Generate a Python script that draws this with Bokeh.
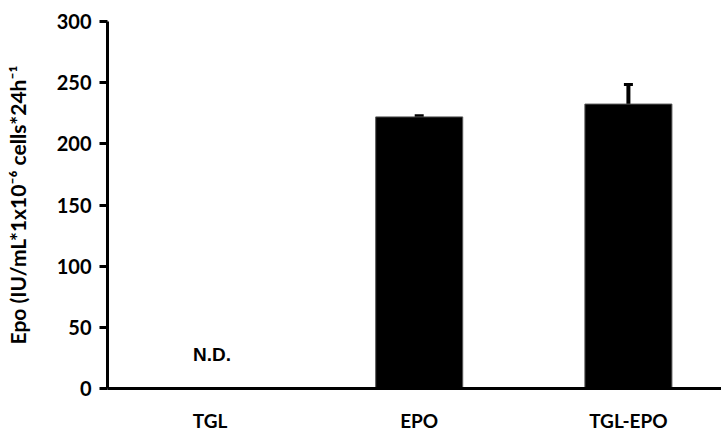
from bokeh.plotting import figure
from bokeh.models import Range1d, FixedTicker, ColumnDataSource, Whisker, TeeHead
from bokeh.core.properties import value
from bokeh.embed import file_html
from bokeh.resources import INLINE

categories = ["TGL", "EPO", "TGL-EPO"]
means = [0, 222, 232.5]
errors = [0, 1, 16]
nd_labels = ["N.D.", "", ""]
nd_y = [28, 28, 28]
y_ticks = [0, 50, 100, 150, 200, 250, 300]

xs = list(range(len(categories)))
plot_cats = [i for i, m in enumerate(means) if m > 0]

p = figure(width=721, height=436, output_backend="svg", toolbar_location=None,
           x_range=Range1d(-0.49, 2.445), y_range=Range1d(0, 300),
           min_border_left=107, min_border_right=0, min_border_top=21, min_border_bottom=48)
p.outline_line_color = None
p.grid.visible = False
p.background_fill_color = "white"

src = ColumnDataSource(dict(x=[xs[i] for i in plot_cats], top=[means[i] for i in plot_cats],
                            upper=[means[i] + errors[i] for i in plot_cats],
                            base=[means[i] for i in plot_cats]))
p.vbar(x="x", top="top", width=0.416, bottom=0, source=src, fill_color="black",
       line_color="#555555", line_width=1)
w = Whisker(source=src, base="x", upper="upper", lower="base", line_color="black", line_width=4,
            upper_head=TeeHead(size=9, line_width=3, line_color="black"),
            lower_head=None)
p.add_layout(w)

p.text(x=[x + 0.01 for x in xs], y=nd_y, text=nd_labels, text_align="center", text_baseline="middle",
       text_font=value("Liberation Sans"), text_font_style="bold", text_font_size="19px",
       text_color="black")

p.xaxis.ticker = FixedTicker(ticks=xs)
p.xaxis.major_label_overrides = {i: c for i, c in zip(xs, categories)}
p.xaxis.major_tick_line_color = None
p.xaxis.minor_tick_line_color = None
p.xaxis.axis_line_width = 3
p.xaxis.axis_line_color = "black"
p.xaxis.major_label_standoff = 14
p.xaxis.major_label_text_font = "Lato"
p.xaxis.major_label_text_font_style = "bold"
p.xaxis.major_label_text_font_size = "19px"
p.xaxis.major_label_text_color = "black"

p.yaxis.ticker = FixedTicker(ticks=y_ticks)
p.yaxis.minor_tick_line_color = None
p.yaxis.axis_line_width = 3
p.yaxis.axis_line_color = "black"
p.yaxis.major_tick_line_width = 3
p.yaxis.major_tick_line_color = "black"
p.yaxis.major_tick_out = 8
p.yaxis.major_tick_in = 0
p.yaxis.major_label_standoff = 8
p.yaxis.major_label_text_font = "Lato"
p.yaxis.major_label_text_font_style = "bold"
p.yaxis.major_label_text_font_size = "20px"
p.yaxis.major_label_text_color = "black"
p.yaxis.axis_label = "Epo (IU/mL*1x10\u207b\u2076 cells*24h\u207b\u00b9"
p.yaxis.axis_label_text_font = "Lato"
p.yaxis.axis_label_text_font_style = "bold"
p.yaxis.axis_label_text_font_size = "21px"
p.yaxis.axis_label_text_color = "black"
p.yaxis.axis_label_standoff = 24

open("out.html", "w").write(file_html(p, INLINE))
